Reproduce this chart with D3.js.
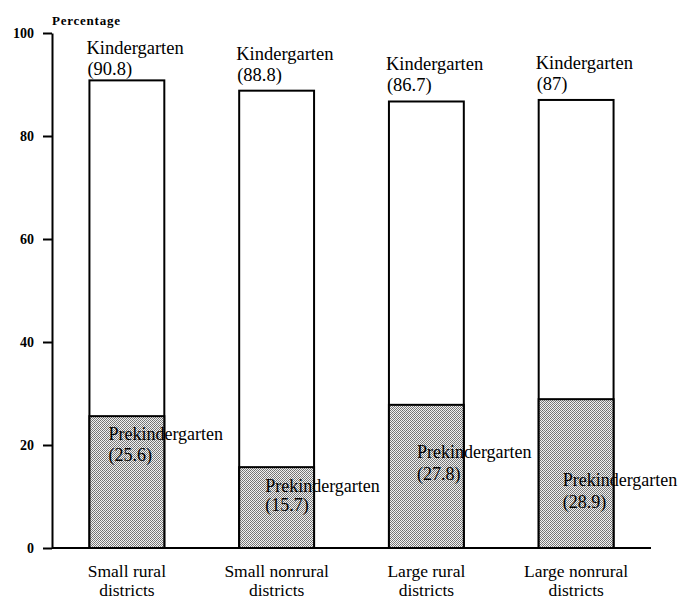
<!DOCTYPE html>
<html>
<head>
<meta charset="utf-8">
<script src="https://cdn.jsdelivr.net/npm/d3@7"></script>
<style>
  body { margin: 0; background: #fff; }
  text { font-family: "Liberation Serif", "Times New Roman", serif; fill: #000; }
</style>
</head>
<body>
<div id="chart"></div>
<script>
// data
const categories = [["Small rural", "districts"], ["Small nonrural", "districts"], ["Large rural", "districts"], ["Large nonrural", "districts"]];
const kindergarten = [90.8, 88.8, 86.7, 87];
const prekindergarten = [25.6, 15.7, 27.8, 28.9];
const yTicks = [0, 20, 40, 60, 80, 100];

// label placement (px, relative to bar)
const kGap = [5, 10, 10, 10];
const preOffset = [[19, 24, 21], [26, 25, 19], [28, 53, 22], [24, 87, 22]];

const width = 680, height = 599;
const svg = d3.select('#chart').append('svg')
    .attr('width', width)
    .attr('height', height);

// dithered grey for the prek bars
const pat = svg.append('defs').append('pattern')
    .attr('id', 'stip')
    .attr('patternUnits', 'userSpaceOnUse')
    .attr('width', 4).attr('height', 4);
pat.append('rect').attr('width', 4).attr('height', 4).attr('fill', '#f2f2f2');
[[0, 0, '#6e6e6e'], [2, 0, '#7c7c7c'], [1, 1, '#888'], [3, 1, '#707070'],
 [0, 2, '#808080'], [2, 2, '#6a6a6a'], [1, 3, '#757575'], [3, 3, '#8a8a8a']]
    .forEach(p => pat.append('rect')
        .attr('x', p[0]).attr('y', p[1])
        .attr('width', 1).attr('height', 1)
        .attr('fill', p[2]));

const x = d3.scaleBand()
    .domain(d3.range(categories.length))
    .range([52, 651])
    .paddingInner(0.5)
    .paddingOuter(0.25);
const y = d3.scaleLinear().domain([0, 100]).range([548, 33]);

// y axis
const yAxisG = svg.append('g')
    .attr('transform', 'translate(52,0)')
    .call(d3.axisLeft(y).tickValues(yTicks).tickSize(9).tickSizeOuter(0).tickPadding(9));
yAxisG.select('.domain').attr('stroke', '#000').attr('stroke-width', 2);
yAxisG.selectAll('.tick line').attr('stroke', '#000').attr('stroke-width', 2);
yAxisG.selectAll('.tick text')
    .style('font-family', '"Liberation Serif", "Times New Roman", serif')
    .style('font-weight', 'bold')
    .style('font-size', '14px')
    .attr('fill', '#000');

svg.append('text')
    .attr('x', 52).attr('y', 25)
    .style('font-size', '13px')
    .style('font-weight', 'bold')
    .attr('textLength', 68)
    .text('Percentage');

// bars
const bars = svg.selectAll('.bar')
    .data(kindergarten)
    .join('g')
    .attr('class', 'bar');

bars.append('rect')
    .attr('x', (d, i) => x(i))
    .attr('y', d => y(d))
    .attr('width', x.bandwidth())
    .attr('height', d => y(0) - y(d))
    .attr('fill', '#fff')
    .attr('stroke', '#000')
    .attr('stroke-width', 2);

bars.append('rect')
    .attr('x', (d, i) => x(i))
    .attr('y', (d, i) => y(prekindergarten[i]))
    .attr('width', x.bandwidth())
    .attr('height', (d, i) => y(0) - y(prekindergarten[i]))
    .attr('fill', 'url(#stip)')
    .attr('stroke', '#000')
    .attr('stroke-width', 2);

// kindergarten labels
bars.append('text')
    .attr('x', (d, i) => x(i) - 3)
    .attr('y', (d, i) => y(d) - kGap[i] - 21)
    .style('font-size', '18.5px')
    .text('Kindergarten');
bars.append('text')
    .attr('x', (d, i) => x(i) - 2)
    .attr('y', (d, i) => y(d) - kGap[i])
    .style('font-size', '18.5px')
    .text(d => `(${d})`);

// prekindergarten labels
bars.append('text')
    .attr('x', (d, i) => x(i) + preOffset[i][0])
    .attr('y', (d, i) => y(prekindergarten[i]) + preOffset[i][1])
    .style('font-size', '18px')
    .text('Prekindergarten');
bars.append('text')
    .attr('x', (d, i) => x(i) + preOffset[i][0])
    .attr('y', (d, i) => y(prekindergarten[i]) + preOffset[i][1] + preOffset[i][2])
    .style('font-size', '18px')
    .text((d, i) => `(${prekindergarten[i]})`);

// baseline
svg.append('line')
    .attr('x1', x.range()[0]).attr('x2', x.range()[1])
    .attr('y1', y(0)).attr('y2', y(0))
    .attr('stroke', '#000')
    .attr('stroke-width', 2);

// category labels
const catG = svg.selectAll('.cat')
    .data(categories)
    .join('text')
    .attr('class', 'cat')
    .attr('text-anchor', 'middle')
    .style('font-size', '17.5px');
catG.selectAll('tspan')
    .data((d, i) => d.map(t => ({t, i})))
    .join('tspan')
    .attr('x', d => x(d.i) + x.bandwidth() / 2)
    .attr('y', (d, j) => 577 + j * 19)
    .text(d => d.t);
</script>
</body>
</html>
